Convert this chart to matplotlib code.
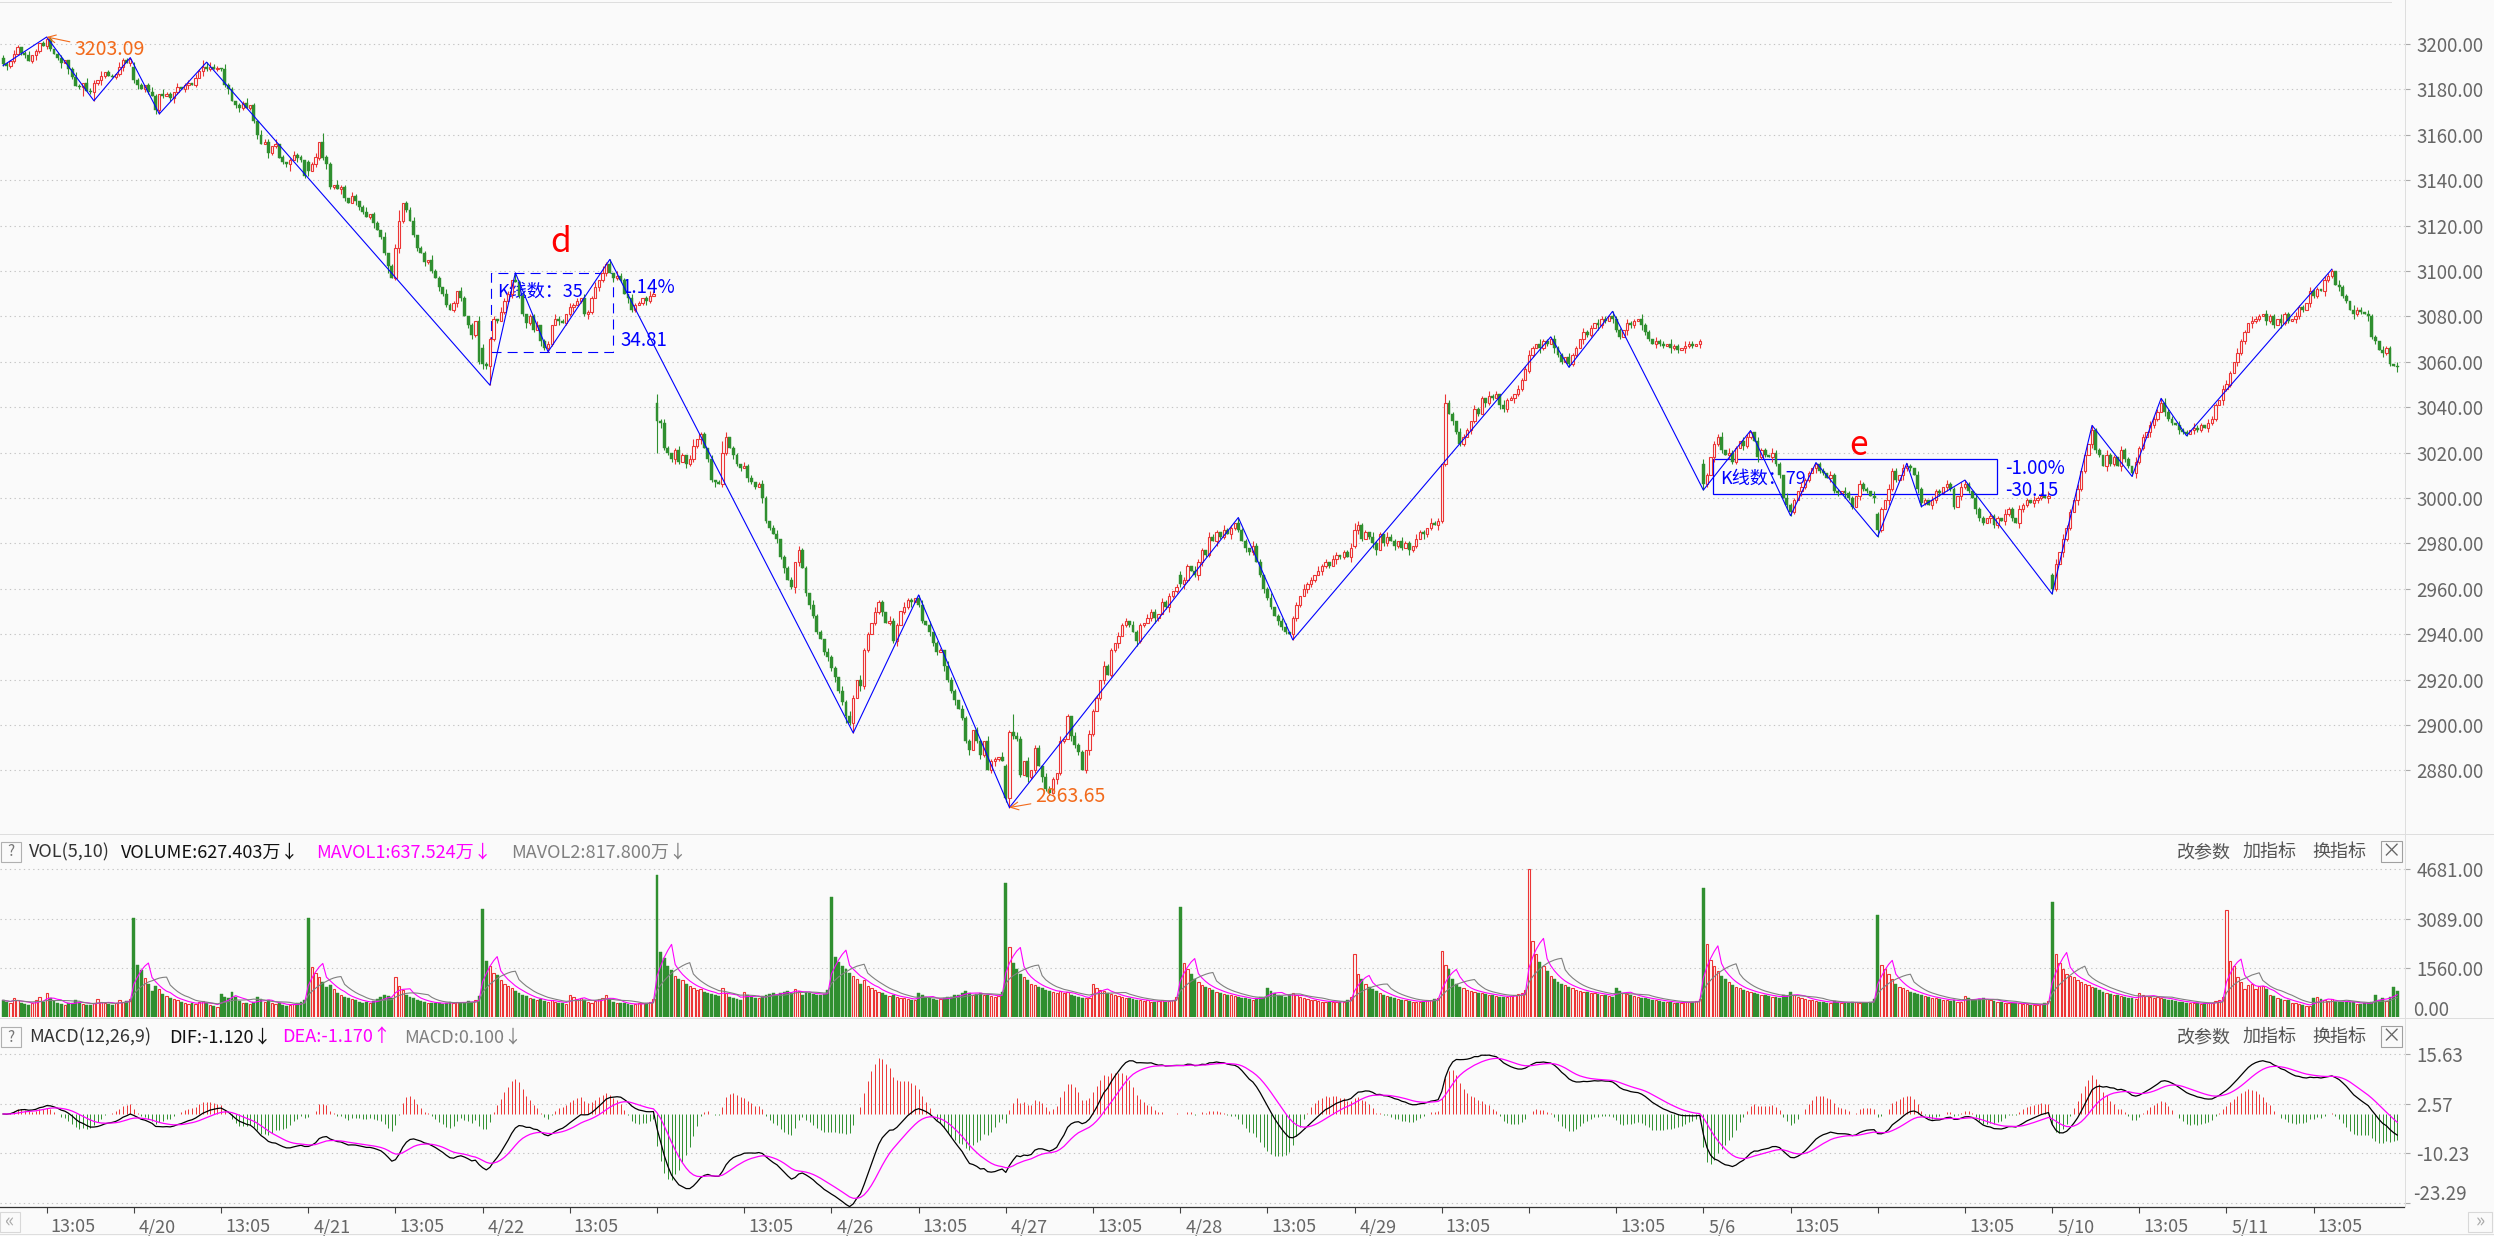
import numpy as np
import pandas as pd
import matplotlib
matplotlib.use("Agg")
import matplotlib.pyplot as plt
from matplotlib.lines import Line2D
from matplotlib.patches import Rectangle
from matplotlib.transforms import blended_transform_factory as blend

plt.rcParams['font.family'] = ['Noto Sans CJK SC', 'DejaVu Sans']
plt.rcParams['axes.unicode_minus'] = False

# ======================= DATA =======================
day_labels = ['4/19', '4/20', '4/21', '4/22', '4/25', '4/26', '4/27', '4/28',
              '4/29', '5/5', '5/6', '5/9', '5/10', '5/11']
shown_date_labels = ['', '4/20', '4/21', '4/22', '', '4/26', '4/27', '4/28',
                     '4/29', '', '5/6', '', '5/10', '5/11']
day_open = [3194, 3190, 3148, 3066, 3042, 2930, 2882, 2966, 2979, 3056, 3015, 2993, 2966, 3048]

c_0419 = [3191, 3190.5, 3192.5, 3195.5, 3198.5, 3196, 3195, 3192.5, 3195, 3197,
          3200.5, 3199, 3202, 3198, 3195.5, 3194, 3191.5, 3193, 3189, 3185.5,
          3181.5, 3181, 3183, 3179.5, 3179, 3183, 3184, 3186, 3187.5, 3186,
          3185.5, 3187, 3190, 3193, 3191.5, 3193.5]
c_0420 = [3184, 3182, 3180, 3182, 3179, 3177, 3171, 3178, 3177, 3178,
          3176, 3179, 3181, 3180, 3182, 3183, 3182, 3185, 3188, 3190,
          3189, 3190, 3189, 3189.5, 3189, 3182, 3180, 3175, 3173, 3172,
          3174, 3172, 3173, 3166, 3160, 3156, 3157, 3152, 3155, 3156,
          3150, 3148, 3147, 3149, 3151, 3150, 3149, 3142]
c_0421 = [3144, 3147, 3150, 3157, 3150, 3147, 3137, 3138, 3136, 3137,
          3132, 3130, 3133, 3131, 3128, 3126, 3124, 3125, 3121, 3118,
          3115, 3108, 3102, 3097, 3110, 3122, 3130, 3127, 3122, 3116,
          3110, 3108, 3104, 3105, 3100, 3097, 3093, 3090, 3085, 3083,
          3086, 3091, 3088, 3080, 3076, 3072, 3078, 3060]
c_0422 = [3059, 3058, 3070, 3079, 3078, 3082, 3087, 3090, 3096, 3095,
          3089, 3081, 3077, 3080, 3074, 3076, 3069, 3066, 3068, 3076,
          3079, 3078, 3077, 3081, 3084, 3085, 3087, 3088, 3081, 3082,
          3088, 3093, 3096, 3099, 3103, 3099, 3097, 3098, 3096, 3090,
          3088, 3083, 3085, 3086, 3088, 3087, 3089, 3090]
c_0425 = [3034, 3033, 3022, 3020, 3017, 3021, 3016, 3019, 3015, 3017,
          3023, 3026, 3028, 3022, 3017, 3008, 3007, 3006, 3020, 3027,
          3022, 3019, 3015, 3013, 3014, 3009, 3007, 3005, 3006, 3000,
          2990, 2987, 2984, 2982, 2974, 2969, 2964, 2961, 2972, 2977,
          2969, 2958, 2953, 2948, 2941, 2938, 2932, 2930]
c_0426 = [2925, 2921, 2915, 2910, 2904, 2901, 2912, 2920, 2917, 2933,
          2940, 2945, 2950, 2954, 2950, 2945, 2946, 2937, 2944, 2950,
          2952, 2955, 2954, 2956, 2953, 2946, 2944, 2941, 2936, 2932,
          2933, 2926, 2920, 2915, 2911, 2907, 2903, 2893, 2889, 2898,
          2893, 2887, 2893, 2880, 2884, 2885, 2886, 2884]
c_0427 = [2868, 2897, 2895, 2894, 2878, 2884, 2877, 2880, 2890, 2882,
          2877, 2872, 2870, 2876, 2879, 2893, 2894, 2904, 2895, 2891,
          2888, 2880, 2889, 2896, 2906, 2912, 2920, 2926, 2922, 2933,
          2936, 2939, 2944, 2946, 2944, 2941, 2937, 2944, 2945, 2947,
          2950, 2947, 2949, 2954, 2952, 2957, 2959, 2961]
c_0428 = [2962, 2964, 2970, 2968, 2966, 2972, 2977, 2975, 2983, 2981,
          2985, 2983, 2986, 2984, 2987, 2989, 2986, 2981, 2978, 2976,
          2979, 2972, 2966, 2960, 2956, 2952, 2948, 2946, 2943, 2941,
          2940, 2947, 2953, 2957, 2960, 2962, 2964, 2966, 2968, 2970,
          2972, 2970, 2973, 2975, 2974, 2976, 2974, 2978]
c_0429 = [2986, 2988, 2982, 2985, 2983, 2980, 2977, 2984, 2980, 2983,
          2981, 2979, 2981, 2978, 2980, 2977, 2979, 2982, 2985, 2984,
          2987, 2989, 2988, 2990, 3015, 3042, 3037, 3034, 3029, 3024,
          3027, 3030, 3034, 3039, 3037, 3044, 3042, 3045, 3044, 3046,
          3041, 3039, 3043, 3044, 3046, 3048, 3052, 3057]
c_0505 = [3063, 3066, 3068, 3066, 3069, 3068, 3070, 3066, 3063, 3060,
          3062, 3059, 3063, 3066, 3070, 3073, 3072, 3075, 3077, 3076,
          3079, 3078, 3080, 3079, 3074, 3071, 3074, 3077, 3076, 3078,
          3079, 3076, 3073, 3070, 3068, 3069, 3068, 3067, 3068, 3066,
          3067, 3065, 3066, 3067, 3068, 3067, 3068, 3069]
c_0506 = [3006, 3010, 3018, 3024, 3027, 3021, 3019, 3020, 3016, 3022,
          3025, 3023, 3027, 3029, 3025, 3018, 3021, 3019, 3018, 3020,
          3015, 3010, 3000, 2997, 2994, 2999, 3003, 3005, 3008, 3011,
          3013, 3015, 3012, 3011, 3009, 3010, 3003, 3002, 3003, 3002,
          3000, 2996, 3001, 3006, 3004, 3003, 3001, 3000]
c_0509 = [2986, 2995, 2999, 3004, 3012, 3008, 3010, 3013, 3014, 3013,
          3010, 3004, 2998, 2999, 2997, 2999, 3003, 3002, 3005, 3006,
          3004, 2996, 3001, 3005, 3006, 3003, 3000, 2995, 2991, 2989,
          2991, 2992, 2988, 2991, 2990, 2993, 2995, 2991, 2989, 2995,
          2997, 2999, 2998, 2999, 3000, 3001, 3000, 3001]
c_0510 = [2960, 2971, 2976, 2982, 2987, 2994, 2999, 3004, 3012, 3019,
          3024, 3030, 3021, 3019, 3014, 3019, 3015, 3018, 3014, 3021,
          3017, 3014, 3011, 3016, 3022, 3027, 3029, 3032, 3035, 3038,
          3042, 3038, 3035, 3033, 3032, 3030, 3029, 3028, 3030, 3031,
          3030, 3032, 3031, 3033, 3035, 3041, 3043, 3048]
c_0511 = [3050, 3055, 3060, 3064, 3069, 3073, 3077, 3078, 3079, 3080,
          3081, 3078, 3080, 3076, 3079, 3077, 3081, 3078, 3079, 3080,
          3084, 3083, 3086, 3091, 3089, 3092, 3091, 3096, 3098, 3100,
          3094, 3093, 3089, 3087, 3083, 3081, 3083, 3082, 3081, 3080,
          3071, 3069, 3065, 3064, 3066, 3059, 3058, 3057.5]
close_days = [c_0419, c_0420, c_0421, c_0422, c_0425, c_0426, c_0427,
              c_0428, c_0429, c_0505, c_0506, c_0509, c_0510, c_0511]

# wick sizes in points (base-36 digits), upper / lower
up_days = ["110210 120101 210110 012102 110201 102110",
           "211012 102110 201102 130211 021101 120102 110201 012110",
           "112041 102110 210120 110201 250112 011021 102110 210102",
           "211102 110212 011201 102110 211021 120311 021102 110121",
           "412101 210230 110201 520110 211012 101201 110211 021102",
           "110212 102110 211021 102110 120201 102110 211011 021102",
           "118210 201102 110201 021102 110211 021102 110211 021101",
           "211021 102110 211021 102110 120112 011021 102110 210112",
           "321102 110211 021102 110211 041102 110211 021102 110211",
           "210211 021102 110211 021102 110211 021102 110211 021101",
           "210112 021102 110211 021102 110211 021102 110211 021102",
           "110211 021102 110211 021102 110211 021102 110211 021102",
           "120211 021102 110211 021102 110211 021102 110211 021102",
           "210211 021102 110211 021102 110211 021102 110211 021102"]
lo_days = ["021101 101210 110120 210140 101210 011201",
           "120110 211012 101201 021101 112012 101120 021101 130211",
           "201112 110210 021101 201130 121101 102110 211012 101211",
           "210110 102011 211021 110201 120112 102110 211021 101210",
           "e21112 102111 201120 110211 021102 110212 013201 211012",
           "121131 102110 112011 201120 110211 021120 112012 101210",
           "221110 211021 102110 211012 101201 120110 211012 101211",
           "121012 211021 102110 211012 110211 021102 110211 021102",
           "121012 201102 110211 021102 110211 102110 211021 102110",
           "110211 021102 110211 021102 110211 021102 110211 021102",
           "110211 021102 110211 021102 110211 021102 110211 021102",
           "210211 021102 110211 021102 110211 021102 110211 021102",
           "210211 021102 110211 021102 110211 021102 110211 021102",
           "110211 021102 110211 021102 110211 021102 110211 021102"]

v_0419 = [520, 480, 450, 600, 520, 430, 400, 380, 450, 520, 610, 480, 750, 600, 500, 430, 400, 380,
          420, 450, 520, 480, 400, 380, 360, 420, 550, 480, 420, 400, 380, 450, 520, 480, 500, 560]
v_0420 = [3120, 1650, 1480, 1220, 1050, 820, 980, 880, 720, 650, 600, 560, 520, 480, 450, 410,
          430, 390, 470, 500, 430, 360, 330, 310, 720, 640, 590, 780, 610, 500, 450, 420,
          400, 480, 640, 560, 460, 520, 430, 400, 420, 380, 350, 380, 400, 420, 460, 540]
v_0421 = [3120, 1580, 1400, 1250, 1100, 950, 1020, 870, 760, 700, 640, 600, 560, 520, 480, 450,
          470, 430, 500, 560, 620, 680, 650, 600, 1250, 980, 860, 700, 640, 580, 540, 500,
          470, 450, 430, 420, 440, 410, 450, 470, 430, 480, 420, 450, 500, 480, 520, 650]
v_0422 = [3420, 1780, 1620, 1400, 1320, 1150, 1050, 980, 900, 820, 760, 700, 650, 600, 560, 520,
          560, 500, 470, 520, 480, 440, 420, 400, 700, 620, 560, 600, 520, 480, 450, 500,
          560, 600, 700, 560, 480, 450, 430, 420, 400, 380, 400, 420, 430, 450, 480, 560]
v_0425 = [4500, 2050, 1850, 1600, 1480, 1300, 1200, 1150, 1050, 980, 900, 850, 880, 800, 760, 720,
          700, 650, 900, 760, 640, 600, 560, 540, 800, 700, 620, 580, 600, 650, 700, 720,
          740, 700, 760, 800, 820, 760, 880, 820, 700, 780, 760, 720, 700, 680, 720, 850]
v_0426 = [3810, 1900, 1750, 1600, 1500, 1400, 1300, 1200, 1050, 1150, 980, 900, 860, 800, 760, 700,
          650, 680, 620, 600, 580, 560, 540, 520, 760, 680, 620, 580, 560, 540, 560, 600,
          620, 640, 680, 700, 760, 820, 760, 700, 720, 760, 700, 680, 650, 620, 660, 780]
v_0427 = [4240, 2200, 1700, 1500, 1350, 1250, 1150, 1050, 1000, 950, 900, 860, 820, 780, 760, 820,
          740, 800, 700, 650, 620, 600, 580, 600, 1050, 900, 860, 820, 760, 720, 680, 650,
          620, 600, 580, 560, 540, 520, 500, 520, 480, 470, 500, 520, 480, 500, 540, 640]
v_0428 = [3480, 1700, 1500, 1350, 1200, 1100, 1000, 950, 900, 850, 800, 760, 720, 700, 680, 650,
          620, 600, 580, 560, 540, 600, 620, 640, 900, 820, 760, 700, 660, 620, 700, 760,
          680, 620, 580, 560, 540, 520, 500, 480, 470, 460, 480, 470, 460, 480, 520, 620]
v_0429 = [2000, 1350, 1200, 1050, 950, 880, 820, 760, 700, 660, 620, 580, 560, 540, 520, 500,
          480, 460, 480, 500, 520, 540, 560, 580, 2100, 1650, 1500, 1200, 1050, 950, 900, 860,
          820, 780, 760, 740, 720, 700, 680, 660, 640, 620, 640, 660, 700, 720, 760, 860]
v_0505 = [4681, 2400, 2000, 1750, 1600, 1450, 1300, 1200, 1100, 1050, 1000, 950, 900, 850, 820, 800,
          780, 760, 740, 720, 700, 680, 660, 640, 900, 820, 760, 720, 680, 650, 620, 600,
          580, 560, 540, 520, 500, 480, 470, 460, 450, 440, 450, 460, 470, 480, 500, 560]
v_0506 = [4100, 2300, 1800, 1600, 1450, 1300, 1200, 1100, 1000, 950, 900, 850, 820, 780, 750, 720,
          700, 680, 660, 640, 620, 600, 700, 650, 800, 700, 640, 600, 560, 540, 520, 500,
          480, 460, 450, 440, 500, 460, 440, 430, 450, 480, 460, 440, 430, 450, 480, 560]
v_0509 = [3240, 1650, 1500, 1350, 1200, 1050, 950, 900, 850, 800, 760, 720, 680, 650, 620, 600,
          580, 560, 540, 520, 500, 540, 480, 460, 650, 580, 540, 520, 560, 600, 560, 520,
          500, 480, 460, 440, 420, 430, 450, 420, 400, 390, 380, 370, 380, 390, 420, 500]
v_0510 = [3640, 2000, 1700, 1500, 1350, 1300, 1250, 1150, 1100, 1050, 1000, 950, 900, 850, 800, 760,
          720, 700, 680, 650, 620, 600, 580, 560, 760, 700, 660, 620, 600, 640, 600, 560,
          540, 520, 500, 480, 460, 450, 440, 430, 420, 410, 420, 430, 450, 500, 540, 620]
v_0511 = [3390, 1770, 1600, 1270, 1110, 880, 1000, 1050, 880, 990, 960, 870, 700, 650, 600, 560,
          530, 520, 450, 420, 400, 380, 330, 340, 600, 620, 560, 520, 500, 550, 480, 460,
          480, 470, 480, 460, 400, 390, 450, 440, 480, 690, 540, 590, 500, 620, 940, 830]
vol_days = [v_0419, v_0420, v_0421, v_0422, v_0425, v_0426, v_0427,
            v_0428, v_0429, v_0505, v_0506, v_0509, v_0510, v_0511]

# zigzag pivots: (candle index, price)
pivot_idx = [0, 12, 25, 35, 43, 56, 134, 141, 150, 167, 234, 252, 277, 340, 355,
             426, 431, 443, 468, 481, 492, 499, 516, 524, 528, 540, 564, 575, 586,
             594, 601, 641]
pivot_price = [3190.5, 3203.09, 3175.0, 3194.0, 3169.2, 3192.0, 3049.7, 3099.2, 3064.4,
               3105.1, 2896.5, 2957.3, 2863.65, 2991.4, 2937.5, 3071.0, 3057.6, 3082.2,
               3003.5, 3029.7, 2992.2, 3015.6, 2983.0, 3015.3, 2996.2, 3007.9, 2957.7,
               3032.0, 3009.5, 3043.9, 3027.4, 3100.8]

price_ticks = [2880, 2900, 2920, 2940, 2960, 2980, 3000, 3020, 3040, 3060, 3080,
               3100, 3120, 3140, 3160, 3180, 3200]
vol_ticks = [1560, 3089, 4681]
macd_ticks = [15.63, 2.57, -10.23, -23.29]

# ======================= BUILD SERIES =======================
closes = np.concatenate([np.array(d, float) for d in close_days])
vols = np.concatenate([np.array(d, float) for d in vol_days])
def digits(s):
    return [int(ch, 36) for ch in s.replace(' ', '')]
upw = np.array(sum([digits(s) for s in up_days], []), float)
low_w = np.array(sum([digits(s) for s in lo_days], []), float)
n = len(closes)
assert len(vols) == n and len(upw) == n and len(low_w) == n
lens = [len(d) for d in close_days]
starts = np.concatenate([[0], np.cumsum(lens)[:-1]])
opens = np.empty(n)
opens[1:] = closes[:-1]
for k, s in enumerate(starts):
    opens[s] = day_open[k]
highs = np.maximum(opens, closes) + upw
lows = np.minimum(opens, closes) - low_w
for i, p in zip(pivot_idx, pivot_price):
    if p >= max(opens[i], closes[i]):
        highs[i] = p
    else:
        lows[i] = p
idx = np.arange(n)
up = closes >= opens

s = pd.Series(closes)
dif = (s.ewm(span=12, adjust=False).mean() - s.ewm(span=26, adjust=False).mean()).values
dea = pd.Series(dif).ewm(span=9, adjust=False).mean().values
hist = 2 * (dif - dea)
vs = pd.Series(vols)
mavol1 = vs.rolling(5, min_periods=1).mean().values
mavol2 = vs.rolling(10, min_periods=1).mean().values

# ======================= STYLE / LAYOUT =======================
W, H, DPI = 2494, 1236, 100
BG = '#fafafa'
RED = '#ec3535'
GREEN = '#2f8f2f'
GRID = '#c4c4c4'
TXT = '#666666'
BLUE = '#0000ff'
ORANGE = '#f26a1b'
MAG = '#ff00ff'
SEP = '#dedede'

fig = plt.figure(figsize=(W / DPI, H / DPI), dpi=DPI, facecolor=BG)

X0, DX = 3.1, 3.633
def ix(px):
    return (px - X0) / DX
XL = (ix(0), ix(2404))

def axes_px(top, bottom, left=0, right=2404):
    a = fig.add_axes([left / W, 1 - bottom / H, (right - left) / W, (bottom - top) / H])
    a.set_facecolor(BG)
    for sp in a.spines.values():
        sp.set_visible(False)
    a.set_xlim(*XL)
    return a

def fX(px):
    return px / W
def fY(py):
    return 1 - py / H

def hline_px(x0, x1, y, color=SEP, lw=1.0):
    fig.add_artist(Line2D([fX(x0), fX(x1)], [fY(y), fY(y)], transform=fig.transFigure,
                          color=color, lw=lw * 0.72))
def vline_px(x, y0, y1, color=SEP, lw=1.0):
    fig.add_artist(Line2D([fX(x), fX(x)], [fY(y0), fY(y1)], transform=fig.transFigure,
                          color=color, lw=lw * 0.72))
def box_px(x0, y0, x1, y1, ec='#aaaaaa', fc=BG):
    fig.add_artist(Rectangle((fX(x0), fY(y1)), fX(x1) - fX(x0), fY(y0) - fY(y1),
                             transform=fig.transFigure, ec=ec, fc=fc, lw=0.8))

def price_at(py):
    return 3200 - (py - 44) / 2.27
def vol_at(py):
    return (1016.7 - py) / 0.0315
def macd_at(py):
    return (1114 - py) / 3.83

def style_right(a, ticks, labels, size=13.5):
    a.yaxis.tick_right()
    a.set_yticks(ticks)
    a.set_yticklabels(labels)
    a.tick_params(axis='y', which='both', left=False, right=True, length=4, width=0.8,
                  color='#aaaaaa', pad=5, labelsize=size, labelcolor=TXT)
    a.tick_params(axis='x', bottom=False, labelbottom=False)
    a.grid(axis='y', color=GRID, lw=0.8, linestyle=(0, (1.2, 3.0)))
    a.set_axisbelow(True)

W_UP, W_DN = 0.64, 0.8

def draw_candles(a, o, c, h, l):
    a.vlines(idx[up], l[up], h[up], color=RED, lw=0.8, zorder=3)
    a.vlines(idx[~up], l[~up], h[~up], color=GREEN, lw=0.8, zorder=3)
    body_up = np.maximum(c[up] - o[up], 0.15)
    a.bar(idx[up], body_up, bottom=o[up], width=W_UP, facecolor=BG, edgecolor=RED,
          lw=0.8, zorder=4)
    body_dn = np.maximum(o[~up] - c[~up], 0.15)
    a.bar(idx[~up], body_dn, bottom=c[~up], width=W_DN, facecolor=GREEN, edgecolor=GREEN,
          lw=0.3, zorder=4)

# ---------------- main price panel ----------------
ax = axes_px(2, 834)
ax.set_ylim(price_at(834), price_at(2))
style_right(ax, price_ticks, ['%.2f' % t for t in price_ticks])
draw_candles(ax, opens, closes, highs, lows)
ax.plot(pivot_idx, pivot_price, color=BLUE, lw=0.8, zorder=6)

# d box (dashed)
d_box = (134.2, 168.0, 3064.4, 3099.2)
ax.add_patch(Rectangle((d_box[0], d_box[2]), d_box[1] - d_box[0], d_box[3] - d_box[2],
                       fill=False, ec=BLUE, lw=0.8, linestyle=(0, (9, 5.5)), zorder=2))
ax.text(ix(496.7), price_at(291.7), 'K线数：35', color=BLUE, fontsize=13,
        ha='left', va='center', zorder=2)
ax.text(ix(621.7), price_at(287.3), '1.14%', color=BLUE, fontsize=13.5, ha='left', va='center')
ax.text(ix(620), price_at(340), '34.81', color=BLUE, fontsize=13.5, ha='left', va='center')
ax.text(ix(561), price_at(251.7), 'd', color='#ff0000', fontsize=24, ha='center', va='baseline')

# e box (solid)
e_box = (470.7, 548.8, 3001.8, 3017.2)
ax.add_patch(Rectangle((e_box[0], e_box[2]), e_box[1] - e_box[0], e_box[3] - e_box[2],
                       fill=False, ec=BLUE, lw=0.9, zorder=2))
ax.text(ix(1720), price_at(478.3), 'K线数：79', color=BLUE, fontsize=13,
        ha='left', va='center', zorder=2)
ax.text(ix(2005), price_at(469), '-1.00%', color=BLUE, fontsize=13.5, ha='left', va='center',
        zorder=8)
ax.text(ix(2005), price_at(491), '-30.15', color=BLUE, fontsize=13.5, ha='left', va='center',
        zorder=7)
ax.text(ix(1858), price_at(455), 'e', color='#ff0000', fontsize=24, ha='center', va='baseline')

# extreme annotations
ax.annotate('3203.09', xy=(12, 3203.09), xytext=(ix(74), price_at(50)), color=ORANGE,
            fontsize=14, ha='left', va='center', zorder=9,
            arrowprops=dict(arrowstyle='->', color=ORANGE, lw=0.8, shrinkA=1, shrinkB=0))
ax.annotate('2863.65', xy=(277, 2863.65), xytext=(ix(1035), price_at(797)), color=ORANGE,
            fontsize=14, ha='left', va='center', zorder=9,
            arrowprops=dict(arrowstyle='->', color=ORANGE, lw=0.8, shrinkA=1, shrinkB=0))

# ---------------- volume panel ----------------
axv = axes_px(838, 1017)
axv.set_ylim(vol_at(1017), vol_at(838))
style_right(axv, vol_ticks, ['%.2f' % t for t in vol_ticks])
axv.bar(idx[up], vols[up], width=W_UP, facecolor=BG, edgecolor=RED, lw=0.8, zorder=3)
axv.bar(idx[~up], vols[~up], width=W_DN, facecolor=GREEN, edgecolor=GREEN, lw=0.3, zorder=3)
axv.plot(idx, mavol1, color=MAG, lw=0.8, zorder=4)
axv.plot(idx, mavol2, color='#808080', lw=0.8, zorder=4)
fig.text(fX(2413), fY(1010), '0.00', fontsize=13.5, color=TXT, ha='left', va='center')

# ---------------- MACD panel ----------------
axm = axes_px(1020, 1207)
axm.set_ylim(macd_at(1207), macd_at(1020))
style_right(axm, macd_ticks, ['15.63', '2.57', '-10.23', ''])
hc = np.where(hist >= 0, RED, GREEN)
axm.vlines(idx, 0, hist, colors=hc, lw=0.7, zorder=3)
axm.plot(idx, dif, color='black', lw=0.9, zorder=4)
axm.plot(idx, dea, color=MAG, lw=0.9, zorder=4)
fig.text(fX(2413), fY(1194), '-23.29', fontsize=13.5, color=TXT, ha='left', va='center')

# time axis
date_pos = list(starts[1:])
noon_pos = [12] + [s + 24 for s in starts[1:]]
tick_pos = sorted(date_pos + noon_pos)
axm.set_xticks(tick_pos)
axm.tick_params(axis='x', bottom=True, labelbottom=False, direction='out', length=4.5,
                width=0.8, color='#444444')
axm.spines['bottom'].set_visible(True)
axm.spines['bottom'].set_color('#333333')
axm.spines['bottom'].set_linewidth(0.9)
tr = blend(axm.transData, fig.transFigure)
for p in noon_pos:
    axm.text(p + 1.1, fY(1227), '13:05', transform=tr, fontsize=13, color=TXT,
             ha='left', va='center')
for k, p in enumerate(date_pos):
    lab = shown_date_labels[k + 1]
    if lab:
        axm.text(p + 1.4, fY(1227), lab, transform=tr, fontsize=13, color=TXT,
                 ha='left', va='center')

# ---------------- frame / separators ----------------
hline_px(0, 2391, 2)
hline_px(0, W, 834)
hline_px(0, W, 1018)
vline_px(2404.5, 0, 1207)
hline_px(0, W, 1234)

# headers
HY1, HY2 = 852, 1037
HFS = 13
for y0 in (HY1, HY2):
    box_px(1, y0 - 10, 21, y0 + 10, ec='#b0b0b0')
    fig.text(fX(11), fY(y0), '?', fontsize=11, color='#777777', ha='center', va='center')
    box_px(2381, y0 - 11, 2402, y0 + 10, ec='#a0a0a0')
    fig.text(fX(2391.5), fY(y0), '×', fontsize=14, color='#666666', ha='center', va='center')
    fig.text(fX(2177), fY(y0), '改参数', fontsize=HFS, color='#555555', ha='left', va='center')
    fig.text(fX(2243), fY(y0), '加指标', fontsize=HFS, color='#555555', ha='left', va='center')
    fig.text(fX(2312), fY(y0), '换指标', fontsize=HFS, color='#555555', ha='left', va='center')

fig.text(fX(29), fY(HY1), 'VOL(5,10)', fontsize=HFS, color='#333333', ha='left', va='center')
fig.text(fX(120.5), fY(HY1), 'VOLUME:627.403万↓', fontsize=HFS, color='#111111', ha='left', va='center')
fig.text(fX(315.7), fY(HY1), 'MAVOL1:637.524万↓', fontsize=HFS, color=MAG, ha='left', va='center')
fig.text(fX(511), fY(HY1), 'MAVOL2:817.800万↓', fontsize=HFS, color='#808080', ha='left', va='center')

fig.text(fX(29), fY(HY2), 'MACD(12,26,9)', fontsize=HFS, color='#333333', ha='left', va='center')
fig.text(fX(168.8), fY(HY2), 'DIF:-1.120↓', fontsize=HFS, color='#111111', ha='left', va='center')
fig.text(fX(282), fY(HY2), 'DEA:-1.170↑', fontsize=HFS, color=MAG, ha='left', va='center')
fig.text(fX(404), fY(HY2), 'MACD:0.100↓', fontsize=HFS, color='#808080', ha='left', va='center')

# scroll buttons
box_px(0, 1212, 20, 1232, ec='#d8d8d8')
fig.text(fX(10), fY(1222), '«', fontsize=14, color='#aaaaaa', ha='center', va='center')
box_px(2468, 1212, 2492, 1232, ec='#d8d8d8')
fig.text(fX(2480), fY(1222), '»', fontsize=14, color='#aaaaaa', ha='center', va='center')

fig.savefig('out.png', dpi=DPI, facecolor=BG)
